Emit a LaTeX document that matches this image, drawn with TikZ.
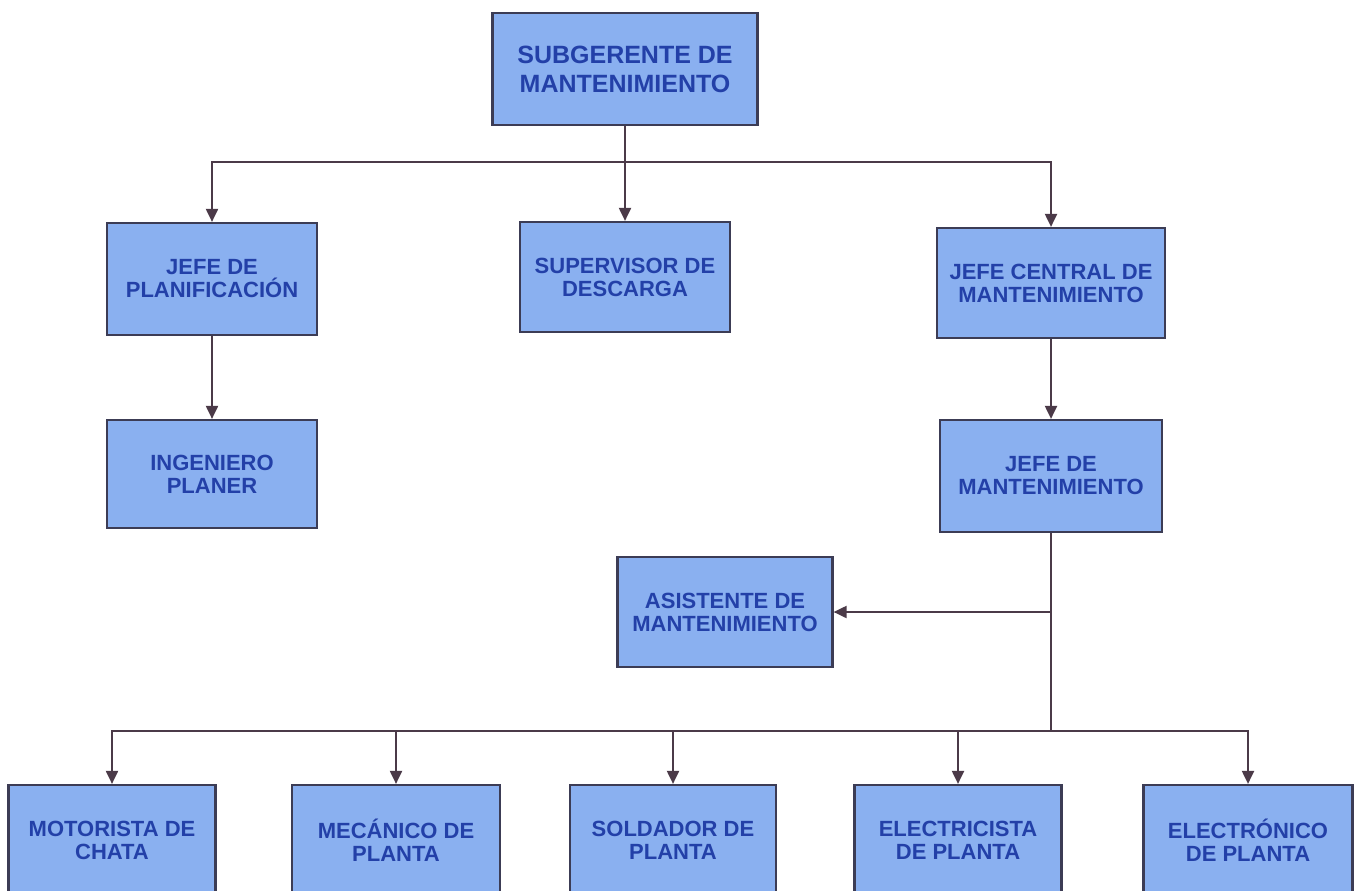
\documentclass[tikz,border=0pt]{standalone}
\usepackage{fontspec}
\setmainfont{Liberation Sans}
\usetikzlibrary{arrows.meta}
\definecolor{boxfill}{RGB}{138,176,240}
\definecolor{boxline}{RGB}{60,60,85}
\definecolor{boxtext}{RGB}{35,64,168}
\definecolor{wire}{RGB}{75,58,72}

\begin{document}
\begin{tikzpicture}[x=1pt,y=-1pt,
    cargo/.style={draw=boxline,line width=2.2pt,fill=boxfill,text=boxtext,
      font=\bfseries\fontsize{22}{23}\selectfont,align=center,
      minimum width=210pt,minimum height=110pt,inner sep=0pt},
    wireline/.style={draw=wire,line width=2pt},
    conn/.style={wireline,-{Triangle[length=13pt,width=12pt]}}]
        \useasboundingbox (0,0) rectangle (1354,891);
        \clip (0,0) rectangle (1354,891);

        \node[cargo,minimum width=265pt,minimum height=112pt,
          font=\bfseries\fontsize{25}{29}\selectfont] (sub) at (625,69) {SUBGERENTE DE\\MANTENIMIENTO};

        \node[cargo,minimum height=112pt] (plan) at (212,279) {JEFE DE\\PLANIFICACIÓN};
        \node[cargo] (sup) at (625,277) {SUPERVISOR DE\\DESCARGA};
        \node[cargo,minimum width=228pt] (cen) at (1051,283) {JEFE CENTRAL DE\\MANTENIMIENTO};

        \node[cargo,minimum height=108pt] (ing) at (212,474) {INGENIERO\\PLANER};
        \node[cargo,minimum width=222pt,minimum height=112pt] (jm) at (1051,476) {JEFE DE\\MANTENIMIENTO};
        \node[cargo,minimum width=215pt] (asis) at (725,612) {ASISTENTE DE\\MANTENIMIENTO};

        \node[cargo,minimum width=207pt] (motor) at (112,840) {MOTORISTA DE\\CHATA};
        \node[cargo,minimum width=208pt] (mec) at (396,840) {MECÁNICO DE\\PLANTA};
        \node[cargo,minimum width=206pt] (sold) at (673,840) {SOLDADOR DE\\PLANTA};
        \node[cargo,minimum width=207pt] (elec) at (958,840) {ELECTRICISTA\\DE PLANTA};
        \node[cargo,minimum width=209pt] (eltr) at (1248,840) {ELECTRÓNICO\\DE PLANTA};

        \path (sub.south) ++(0,36) coordinate (bus);
        \path (jm.south) ++(0,198) coordinate (low);
        \path (jm.south |- asis.east) coordinate (side);

        \draw[conn] (sub.south) -- (sup.north);
        \draw[conn] (bus) -| (plan.north);
        \draw[conn] (bus) -| (cen.north);
        \draw[conn] (plan.south) -- (ing.north);
        \draw[conn] (cen.south) -- (jm.north);

        \draw[wireline] (jm.south) -- (low);
        \draw[conn] (side) -- (asis.east);
        \foreach \n in {motor,mec,sold,elec,eltr}
          \draw[conn] (low) -| (\n.north);
    \end{tikzpicture}
\end{document}
